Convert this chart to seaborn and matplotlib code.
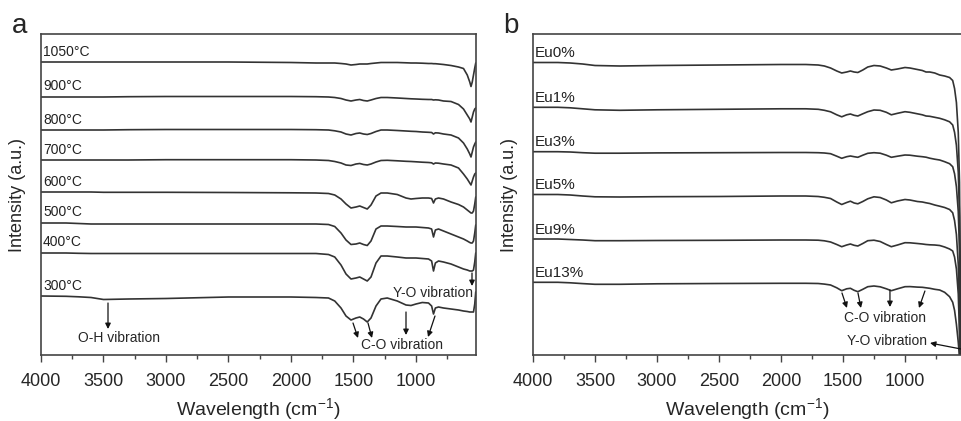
import pandas as pd
import matplotlib
matplotlib.use("Agg")
import matplotlib.pyplot as plt
from matplotlib.ticker import MultipleLocator
import seaborn as sns

# ================= data =================
# panel a: FTIR spectra after annealing at different temperatures
WN_A = [4000, 3800, 3700, 3600, 3500, 3300, 3000, 2500, 2000, 1800, 1700, 1650,
        1600, 1560, 1520, 1480, 1450, 1420, 1390, 1360, 1320, 1280, 1230, 1150,
        1080, 1040, 1000, 950, 900, 875, 860, 845, 820, 780, 720, 660, 620, 590,
        570, 560, 550, 540, 530, 522]
TEMP_LABELS = ["1050°C", "900°C", "800°C", "700°C", "600°C", "500°C", "400°C", "300°C"]
TEMP_OFFSETS = [338, 303, 270, 240, 208, 177, 147, 104]

t1050 = [0, 0, 0, 0, 0, 0, 0, 0, -0.5, -1, -1, -1, -1.5, -2, -3, -2.5, -2, -2, -2,
         -1.5, -1, -0.5, -0.5, -0.5, -0.8, -1, -1, -1.2, -1.5, -1.5, -1.7, -1.7, -2,
         -2.5, -3.5, -5, -6.5, -13, -20, -24.5, -20, -13, -6, -1]
t900 = [0, 0, 0, 0, 0, 0.3, 0.5, 0.5, 0.5, 0.3, 0, -0.5, -1.5, -3, -4, -3, -2.5,
        -3.5, -4, -3, -1.5, -0.5, -0.5, -1, -1.5, -1.8, -2, -2.3, -2.5, -2.5, -3,
        -2.8, -3, -4, -4.5, -7.5, -12, -18, -22, -25, -20, -15, -12, -11]
t800 = [0, 0, 0, 0, 0, 0.3, 0.5, 0.5, 0.5, 0.3, 0, -0.8, -2, -4, -5, -3.5, -3, -4,
        -4.5, -3.5, -1.5, 0, 0, -0.5, -1, -1.3, -1.5, -2, -2.3, -2.5, -4, -2.8, -3,
        -4, -5, -8, -13, -19, -24, -27, -22, -17, -14, -12]
t700 = [0, 0, 0, 0, 0, 0, 0.3, 0.3, 0.3, 0, -0.5, -1.5, -3, -5, -5.5, -4, -3.5,
        -4.5, -5, -4, -2, -0.5, -0.3, -0.8, -1.3, -1.5, -1.8, -2.2, -2.5, -2.8, -4,
        -3, -3.2, -4, -5, -8, -14, -19, -23, -25, -21, -17, -14, -13]
t600 = [0, 0, 0, 0, -0.3, -0.3, -0.3, -0.5, -0.8, -1, -1.5, -3, -7, -12, -16, -15,
        -14, -15.5, -17, -13, -4, -1, -1, -2.5, -6, -7, -6.5, -6, -6, -6.5, -11, -7,
        -6, -7, -10, -12.5, -15, -18, -20, -21, -21, -19, -12, -5]
t500 = [0, 0, -0.5, -1, -1, -1, -1, -1, -1, -1, -1.5, -3.5, -10, -17, -21.5, -21,
        -20, -21.5, -22.5, -18, -6, -3, -3, -3.5, -4, -4, -4, -4.5, -5, -6, -14, -7,
        -6, -8, -11, -14, -16, -18, -19.5, -20, -20, -18, -10, -2]
t400 = [0, 0, -0.3, -0.5, -0.5, -0.5, -0.5, -0.5, -0.5, -0.5, -1.5, -4, -12, -21,
        -26, -25, -24, -26, -28, -24, -10, -3, -3, -4, -5, -5, -5, -5.5, -6, -8, -18,
        -10, -8, -9, -11, -14, -16, -17, -18, -18, -18, -17, -9, 0]
t300 = [0, -0.3, -0.8, -1.5, -3.5, -3, -2.5, -1, -1, -1.5, -2, -5, -12, -20, -24,
        -22, -21, -23, -26, -22, -10, -3, -2, -5, -9, -9.5, -8, -6.5, -7, -10, -18,
        -12, -11, -12, -13, -14, -15, -15.5, -16, -16, -16, -16, -8, 4]
TEMP_SPECTRA = [t1050, t900, t800, t700, t600, t500, t400, t300]

# panel b: FTIR spectra for different Eu doping
WN_B = [4000, 3800, 3700, 3600, 3500, 3300, 3000, 2500, 2000, 1800, 1700, 1650,
        1600, 1550, 1510, 1470, 1440, 1410, 1380, 1340, 1300, 1250, 1200, 1150,
        1110, 1060, 1000, 960, 900, 860, 830, 800, 760, 720, 680, 640, 615, 600,
        585, 570, 560, 548]
EU_LABELS = ["Eu0%", "Eu1%", "Eu3%", "Eu5%", "Eu9%", "Eu13%"]
EU_OFFSETS = [337.5, 292.7, 248.3, 205.5, 161, 117.7]

eu0 = [0, 0, -0.5, -1.5, -3, -3.5, -3, -2.5, -2, -2, -2.5, -3.5, -5.5, -8.5, -10.5,
       -9.5, -8.5, -9.5, -10, -7.5, -4.5, -3, -3.5, -5.5, -7.5, -6.5, -5, -5.5, -7,
       -8, -9.5, -9.5, -10.5, -12.5, -13.5, -15, -18, -26, -40, -70, -120, -300]
eu1 = [0, 0, -0.5, -1.5, -2.5, -3, -2.5, -2, -1.5, -1.5, -2, -3, -4.5, -7.5, -9.5,
       -7.5, -6.7, -8, -8.7, -6.5, -4.4, -2.7, -3, -5, -7.5, -6, -4.4, -5, -6.5,
       -7.5, -8.7, -9, -10, -11, -12.5, -14.5, -17.7, -25, -38, -65, -110, -300]
eu3 = [0, 0, -0.3, -1, -1.5, -1.5, -1.2, -1, -0.8, -0.8, -1, -1.3, -2, -4.5, -6.6,
       -5, -4.3, -5, -5.6, -3.5, -1.6, -1, -1.5, -3.5, -5.6, -4.5, -3.3, -3.5, -4.5,
       -5, -5.5, -6.5, -7.5, -8.3, -10, -12, -15, -22, -35, -60, -100, -300]
eu5 = [0, 0, -0.5, -1.5, -2.3, -2.5, -2.2, -2, -1.5, -1.5, -2, -2.8, -4, -7.5, -10,
       -8, -6.7, -8.5, -9.3, -7, -4.3, -2.3, -3, -5.5, -8.3, -6.5, -5, -5.5, -7,
       -7.5, -8.3, -9, -10.5, -11.7, -13, -15, -18.3, -26, -40, -70, -120, -300]
eu9 = [0, 0, -0.5, -1, -1.7, -1.7, -1.5, -1.3, -1, -1, -1.2, -1.8, -3, -5.5, -7.7,
       -6, -5, -6.3, -7, -4.5, -1.7, -1.2, -2.5, -5.5, -7.7, -6, -3.7, -3.8, -4.5,
       -5, -5.5, -5.8, -6, -6.5, -8, -10, -12, -18, -30, -55, -95, -300]
eu13 = [0, 0, -0.5, -1.3, -2, -2, -1.5, -1.2, -1, -1, -1.2, -1.8, -2.7, -5.5, -8.4,
        -6.5, -6, -8, -9.4, -7, -4.4, -3.7, -4.5, -6.5, -8.4, -6.5, -4.4, -4.3, -4.8,
        -5, -5.5, -6, -7, -7.7, -10, -14.4, -20, -28, -42, -60, -75, -300]
EU_SPECTRA = [eu0, eu1, eu3, eu5, eu9, eu13]
# ========================================


def to_long(wn, labels, offsets, spectra):
    rows = []
    for lab, off, spec in zip(labels, offsets, spectra):
        for w, v in zip(wn, spec):
            rows.append({"Wavenumber": w, "Intensity": off + v, "Sample": lab})
    return pd.DataFrame(rows)


df_a = to_long(WN_A, TEMP_LABELS, TEMP_OFFSETS, TEMP_SPECTRA)
df_b = to_long(WN_B, EU_LABELS, EU_OFFSETS, EU_SPECTRA)

sns.set_style("ticks")
plt.rcParams["font.family"] = ["Liberation Sans", "DejaVu Sans"]
plt.rcParams["mathtext.default"] = "regular"

LINE = "#333333"
fig = plt.figure(figsize=(9.61, 4.21), dpi=100)
ax_a = fig.add_axes([41 / 961, 66 / 421, 435 / 961, 321 / 421])
ax_b = fig.add_axes([533 / 961, 66 / 421, 428 / 961, 321 / 421])

for ax, df, xr in [(ax_a, df_a, 520), (ax_b, df_b, 548)]:
    sns.lineplot(data=df, x="Wavenumber", y="Intensity", units="Sample",
                 estimator=None, color=LINE, linewidth=1.2, ax=ax)
    ax.set_xlim(4000, xr)
    ax.set_ylim(45, 366)
    ax.set_yticks([])
    ax.xaxis.set_major_locator(MultipleLocator(500))
    ax.xaxis.set_minor_locator(MultipleLocator(250))
    ax.tick_params(axis="x", which="major", direction="out", length=5, width=1,
                   labelsize=13, pad=8, color="#444")
    ax.tick_params(axis="x", which="minor", direction="out", length=3, width=1,
                   color="#444")
    ax.set_xlabel("Wavelength (cm$^{-1}$)", fontsize=14, labelpad=4)
    ax.set_ylabel("Intensity (a.u.)", fontsize=13, labelpad=11)
    for s in ax.spines.values():
        s.set_color("#444")
        s.set_linewidth(1.2)
ax_b.spines["right"].set_visible(False)

# sample labels
for lab, off in zip(TEMP_LABELS, TEMP_OFFSETS):
    ax_a.text(3984, off + 6.5, lab, fontsize=10, ha="left", va="baseline", color="#222")
for lab, off in zip(EU_LABELS, EU_OFFSETS):
    ax_b.text(3984, off + 5.5, lab, fontsize=11, ha="left", va="baseline", color="#222")

arrow = dict(arrowstyle="-|>", color="#111", lw=0.9, mutation_scale=8,
             shrinkA=0, shrinkB=0)

# panel a annotations
ax_a.text(3376, 62, "O-H vibration", fontsize=10, ha="center", va="center")
ax_a.annotate("", xy=(3464, 71), xytext=(3464, 97), arrowprops=arrow)
ax_a.text(1112, 55, "C-O vibration", fontsize=10, ha="center", va="center")
for tail, head in [((1504, 77), (1464, 62)), ((1384, 77), (1352, 62)),
                   ((1080, 88), (1080, 65)), ((848, 84), (904, 63))]:
    ax_a.annotate("", xy=head, xytext=tail, arrowprops=arrow)
ax_a.text(864, 107, "Y-O vibration", fontsize=10, ha="center", va="center")
ax_a.annotate("", xy=(552, 114), xytext=(552, 127), arrowprops=arrow)

# panel b annotations
ax_b.text(1161, 82, "C-O vibration", fontsize=10, ha="center", va="center")
for tail, head in [((1508, 107), (1468, 92)), ((1379, 107), (1355, 92)),
                   ((1121, 110), (1121, 93)), ((839, 109), (887, 92))]:
    ax_b.annotate("", xy=head, xytext=tail, arrowprops=arrow)
ax_b.text(1145, 59, "Y-O vibration", fontsize=10, ha="center", va="center")
ax_b.annotate("", xy=(798, 57), xytext=(548, 51), arrowprops=arrow,
              annotation_clip=False)

fig.text(12 / 961, 1 - 33 / 421, "a", fontsize=20, ha="left", va="baseline")
fig.text(503 / 961, 1 - 33 / 421, "b", fontsize=20, ha="left", va="baseline")

fig.savefig("out.png", dpi=100)
